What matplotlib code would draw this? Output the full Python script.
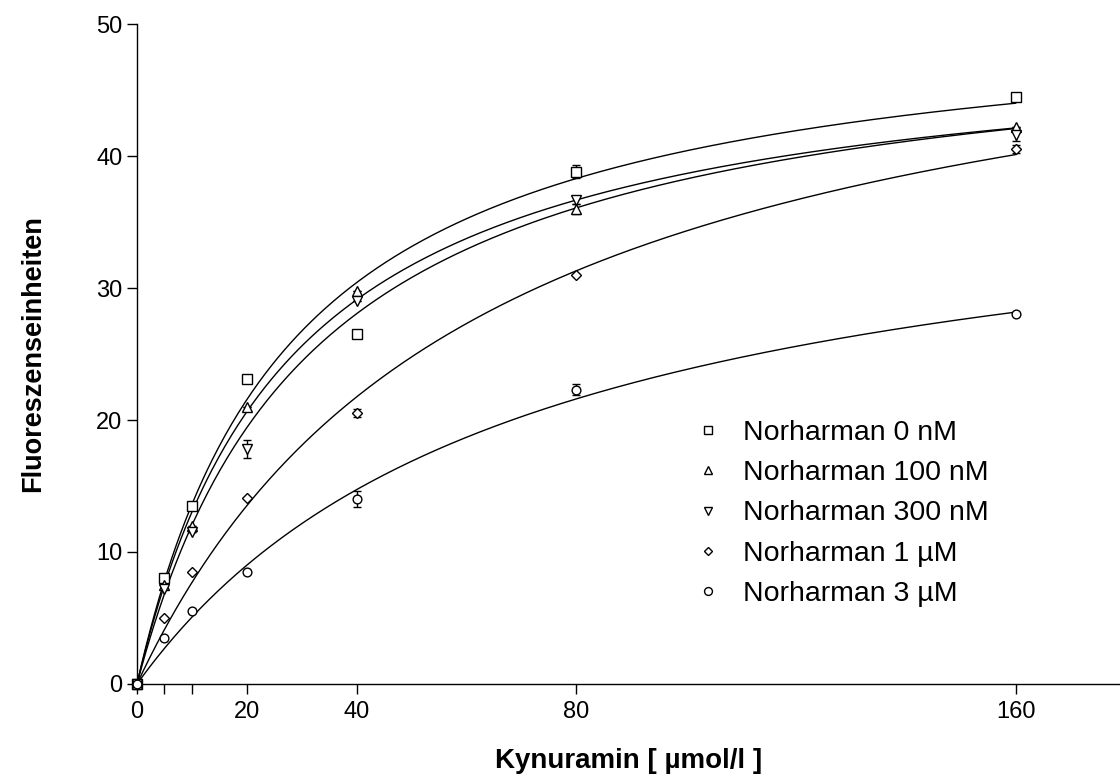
import matplotlib
matplotlib.use("Agg")
import matplotlib.pyplot as plt
import numpy as np

plt.rcParams['font.family'] = ['Liberation Sans', 'DejaVu Sans']

# Kynuramin concentrations (umol/l)
conc = [0, 5, 10, 20, 40, 80, 160]

labels = ["Norharman 0 nM", "Norharman 100 nM", "Norharman 300 nM",
          "Norharman 1 \u00b5M", "Norharman 3 \u00b5M"]
markers = ['s', '^', 'v', 'D', 'o']

# measured fluorescence, mean and error
y_0nM = [0, 8.0, 13.5, 23.1, 26.5, 38.8, 44.5]
y_100nM = [0, 7.5, 12.0, 21.0, 29.8, 36.0, 42.2]
y_300nM = [0, 7.2, 11.5, 17.8, 29.0, 36.7, 41.6]
y_1uM = [0, 5.0, 8.5, 14.1, 20.5, 31.0, 40.5]
y_3uM = [0, 3.5, 5.5, 8.5, 14.0, 22.3, 28.0]

e_0nM = [0, 0, 0, 0, 0, 0.5, 0]
e_100nM = [0, 0, 0, 0, 0, 0.4, 0]
e_300nM = [0, 0, 0, 0.7, 0, 0.3, 0.5]
e_1uM = [0, 0, 0, 0, 0.3, 0, 0.3]
e_3uM = [0, 0, 0, 0, 0.6, 0.4, 0]

# Michaelis-Menten fit parameters
vmax = [51.7, 49.5, 50.5, 55.8, 40.5]
km = [28.0, 28.0, 32.0, 62.6, 70.0]

ys = [y_0nM, y_100nM, y_300nM, y_1uM, y_3uM]
es = [e_0nM, e_100nM, e_300nM, e_1uM, e_3uM]

fig = plt.figure(figsize=(11.2, 7.78), dpi=100)
ax = fig.add_axes([137/1120, 94/778, 983/1120, 660/778])

xfit = np.linspace(0, 160, 400)
handles = []
for i in range(len(ys)):
    ax.plot(xfit, vmax[i]*xfit/(km[i]+xfit), color='black', lw=1.0)
    ms = 6.5
    if markers[i] == 'D':
        ms = 4.8
    elif markers[i] == 'o':
        ms = 6.3
    ax.errorbar(conc, ys[i], yerr=es[i], fmt='none', ecolor='black',
                elinewidth=1.0, capsize=3, capthick=1.0, clip_on=False)
    h, = ax.plot(conc, ys[i], linestyle='none', marker=markers[i], ms=ms,
                 mfc='white', mec='black', mew=1.0, clip_on=False,
                 label=labels[i], zorder=3)
    handles.append(h)

ax.set_xlim(0, 179)
ax.set_ylim(0, 50)
ax.set_xticks([0, 20, 40, 80, 160])
ax.set_xticks([5, 10], minor=True)
ax.set_yticks([0, 10, 20, 30, 40, 50])
ax.tick_params(which='both', direction='out', length=7.5, width=1,
               labelsize=17)
ax.tick_params(axis='x', pad=4.5)
ax.tick_params(axis='y', pad=3)
for s in ['top', 'right']:
    ax.spines[s].set_visible(False)
ax.spines['left'].set_linewidth(1)
ax.spines['bottom'].set_linewidth(1)

ax.set_xlabel("Kynuramin [ \u00b5mol/l ]", fontsize=20, fontweight='bold',
              labelpad=18)
ax.set_ylabel("Fluoreszenseinheiten", fontsize=19.5, fontweight='bold',
              labelpad=36)

leg = fig.legend(handles=handles, loc='upper left',
                 bbox_to_anchor=(694/1120, 1 - 420/778), frameon=False,
                 fontsize=20.5, handlelength=1.0, handletextpad=0.73,
                 labelspacing=0.5, borderpad=0, borderaxespad=0,
                 markerscale=0.9)

fig.savefig("out.png", dpi=100)
